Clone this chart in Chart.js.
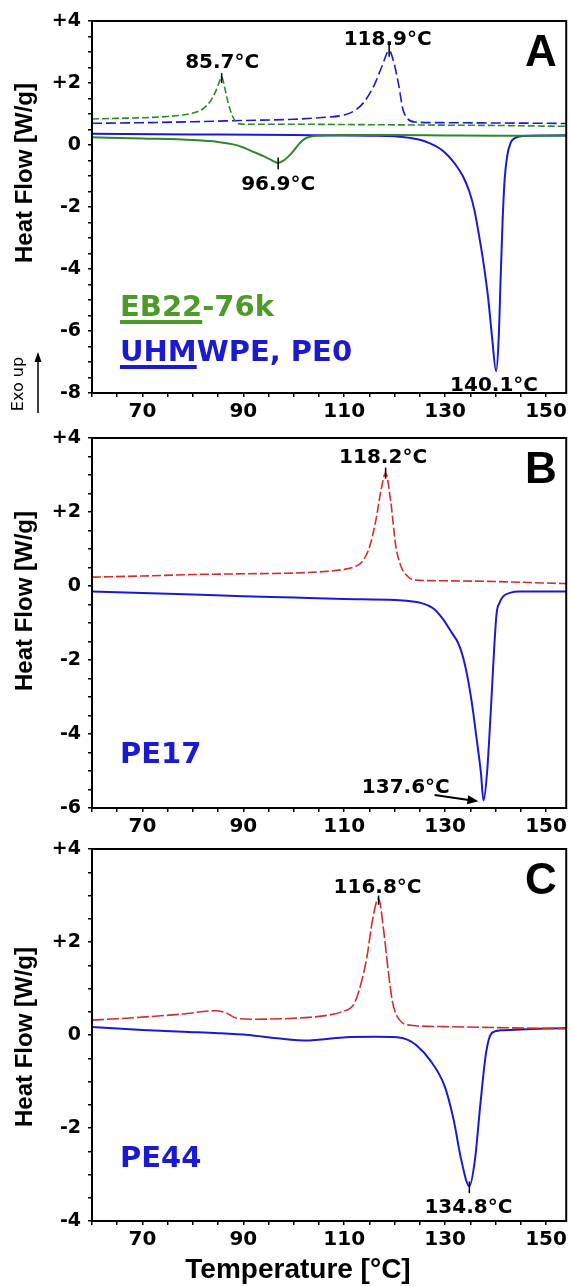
<!DOCTYPE html>
<html>
<head>
<meta charset="utf-8">
<script src="https://cdn.jsdelivr.net/npm/chart.js@4.4.1/dist/chart.umd.min.js"></script>
<style>
    body { margin: 0; background: #fff; width: 570px; height: 1286px; position: relative; overflow: hidden; }
    canvas { position: absolute; left: 0; }
</style>
</head>
<body>
<canvas id="chart-a" width="570" height="440" style="top:0px"></canvas>
<canvas id="chart-b" width="570" height="440" style="top:415px"></canvas>
<canvas id="chart-c" width="570" height="460" style="top:826px"></canvas>
<script>
// ---- data (temperature in °C, heat flow in W/g) ----
const xTickLabels = [70, 90, 110, 130, 150];
const aYTickLabels = ['-8', '-6', '-4', '-2', '0', '+2', '+4'];
const bYTickLabels = ['-6', '-4', '-2', '0', '+2', '+4'];
const cYTickLabels = ['-4', '-2', '0', '+2', '+4'];

// panel A: EB22-76k (green) and UHMWPE / PE0 (blue)
const aEbCoolT = [60, 65, 70, 75, 78, 80, 82, 83.5, 84.5, 85.2, 85.7, 86.3, 87, 87.8, 88.5, 89.3, 91, 95, 100, 110, 120, 130, 140, 150, 155];
const aEbCoolV = [0.84, 0.86, 0.88, 0.92, 0.97, 1.03, 1.17, 1.42, 1.72, 2.02, 2.2, 1.85, 1.35, 0.95, 0.75, 0.68, 0.67, 0.67, 0.67, 0.66, 0.65, 0.64, 0.63, 0.61, 0.6];
const aUhCoolT = [60, 70, 80, 90, 100, 105, 110, 112, 114, 116, 117.5, 118.9, 119.8, 120.8, 121.6, 122.5, 124, 130, 140, 150, 155];
const aUhCoolV = [0.7, 0.72, 0.75, 0.79, 0.83, 0.88, 0.97, 1.1, 1.4, 1.95, 2.55, 3.05, 2.68, 1.93, 1.17, 0.86, 0.74, 0.72, 0.71, 0.7, 0.69];
const aEbHeatT = [60, 70, 80, 85, 88, 90, 92, 94, 95.5, 96.9, 98, 99, 100, 101, 102, 103, 105, 110, 120, 130, 140, 150, 155];
const aEbHeatV = [0.25, 0.21, 0.16, 0.1, 0.02, -0.08, -0.22, -0.36, -0.48, -0.58, -0.5, -0.36, -0.18, 0.03, 0.18, 0.26, 0.3, 0.32, 0.32, 0.31, 0.3, 0.3, 0.3];
const aUhHeatT = [60, 80, 100, 110, 115, 120, 123, 125, 127, 129, 130.5, 132, 133.5, 134.8, 135.8, 136.7, 137.6, 138.5, 139.3, 140.1, 140.6, 141, 141.4, 141.8, 142.3, 143, 143.8, 145.5, 150, 155];
const aUhHeatV = [0.36, 0.34, 0.32, 0.31, 0.3, 0.28, 0.23, 0.17, 0.05, -0.12, -0.33, -0.62, -1.0, -1.5, -2.1, -2.9, -3.8, -4.9, -6.2, -7.3, -6.3, -4.3, -2.4, -1.1, -0.35, 0.08, 0.22, 0.29, 0.31, 0.32];

// panel B: PE17
const bCoolT = [60, 70, 80, 90, 100, 106, 110, 112, 113.5, 115, 116.3, 117.3, 118.2, 119.2, 120.2, 121.2, 122.5, 124, 130, 140, 150, 155];
const bCoolV = [0.24, 0.27, 0.31, 0.33, 0.35, 0.39, 0.45, 0.52, 0.65, 1.05, 1.8, 2.6, 3.05, 2.3, 1.1, 0.55, 0.27, 0.16, 0.14, 0.12, 0.08, 0.06];
const bHeatT = [60, 70, 80, 90, 100, 110, 120, 125.5, 127.6, 129.5, 131.4, 132.5, 133.4, 134.2, 135, 135.6, 136.1, 136.6, 137.1, 137.6, 138.3, 139, 139.7, 140.2, 140.8, 141.5, 143, 144.5, 150, 155];
const bHeatV = [-0.15, -0.19, -0.23, -0.28, -0.31, -0.35, -0.38, -0.47, -0.6, -0.88, -1.28, -1.52, -1.85, -2.3, -2.9, -3.45, -3.98, -4.5, -5.06, -5.8, -5.06, -3.5, -1.73, -0.74, -0.45, -0.28, -0.18, -0.15, -0.15, -0.15];

// panel C: PE44
const cCoolT = [60, 65, 70.7, 77.9, 84.3, 86.5, 88.7, 92.3, 98, 103.1, 107, 109.5, 112, 113.5, 114.5, 115.6, 116.8, 117.8, 118.7, 119.6, 121, 123.2, 130, 140, 150, 155];
const cCoolV = [0.32, 0.35, 0.39, 0.45, 0.52, 0.48, 0.36, 0.34, 0.35, 0.38, 0.43, 0.5, 0.68, 1.18, 1.68, 2.47, 2.94, 2.26, 1.4, 0.69, 0.32, 0.21, 0.18, 0.16, 0.14, 0.13];
const cHeatT = [60, 70, 78, 85, 91, 96.7, 102.8, 106, 110.4, 116, 120.5, 122.5, 124.3, 127, 129.9, 131.7, 133.2, 134.8, 135.9, 137, 138.1, 139.2, 141, 145, 150, 155];
const cHeatV = [0.17, 0.11, 0.07, 0.04, 0.0, -0.07, -0.12, -0.09, -0.05, -0.04, -0.05, -0.1, -0.22, -0.54, -1.1, -1.83, -2.69, -3.25, -2.69, -1.47, -0.39, 0.04, 0.1, 0.12, 0.14, 0.15];

// peak labels: [text, T, heat flow at text baseline]
const aPeakLabels = [['85.7°C', 85.8, 2.48], ['118.9°C', 118.6, 3.24], ['96.9°C', 96.9, -1.46], ['140.1°C', 139.7, -7.95]];
const bPeakLabels = [['118.2°C', 117.7, 3.32], ['137.6°C', 122.2, -5.59]];
const cPeakLabels = [['116.8°C', 116.6, 3.05], ['134.8°C', 134.6, -3.82]];
// small marker strokes at the peaks: [T, from, to]
const aPeakMarks = [[85.7, 2.32, 2.0], [118.9, 3.25, 2.85], [96.9, -0.4, -0.78]];
const bPeakMarks = [[118.2, 3.2, 2.9]];
const cPeakMarks = [[116.8, 3.0, 2.8], [134.8, -3.15, -3.4]];

const BLUE = '#1a1ad2';
const GREEN_LINE = '#2c8a2c';
const GREEN_TEXT = '#4c9a2a';
const RED = '#d62c2c';

function pts(T, V) {
    return T.map((t, i) => ({ x: t, y: V[i] }));
}

function series(T, V, color, dash, width) {
    return {
        data: pts(T, V),
        borderColor: color,
        borderWidth: width,
        borderDash: dash,
        pointRadius: 0,
        fill: false,
        cubicInterpolationMode: 'monotone'
    };
}

const decor = {
    id: 'decor',
    afterDraw(chart) {
        const o = chart.options.plugins.decor;
        const { ctx, chartArea: a } = chart;
        const x = chart.scales.x, y = chart.scales.y;
        ctx.save();

        // frame
        ctx.strokeStyle = '#000';
        ctx.lineWidth = 2;
        ctx.strokeRect(a.left, a.top, a.right - a.left, a.bottom - a.top);

        // panel letter
        ctx.fillStyle = '#000';
        ctx.font = 'bold 44px "Liberation Sans", Arial, sans-serif';
        ctx.textAlign = 'center';
        ctx.textBaseline = 'alphabetic';
        ctx.fillText(o.letter, 541, a.top + 45);

        // peak labels
        ctx.font = 'bold 20px "DejaVu Sans", sans-serif';
        o.labels.forEach(([t, tx, ty]) => {
            ctx.fillText(t, x.getPixelForValue(tx), y.getPixelForValue(ty));
        });

        // peak marks
        ctx.lineWidth = 1.5;
        o.marks.forEach(([tx, v1, v2]) => {
            const px = x.getPixelForValue(tx);
            ctx.beginPath();
            ctx.moveTo(px, y.getPixelForValue(v1));
            ctx.lineTo(px, y.getPixelForValue(v2));
            ctx.stroke();
        });

        // arrow pointing at a peak
        if (o.arrow) {
            const [t1, v1, t2, v2] = o.arrow;
            const x1 = x.getPixelForValue(t1), y1 = y.getPixelForValue(v1);
            const x2 = x.getPixelForValue(t2), y2 = y.getPixelForValue(v2);
            const ang = Math.atan2(y2 - y1, x2 - x1);
            ctx.lineWidth = 2;
            ctx.beginPath();
            ctx.moveTo(x1, y1);
            ctx.lineTo(x2 - 8 * Math.cos(ang), y2 - 8 * Math.sin(ang));
            ctx.stroke();
            ctx.beginPath();
            ctx.moveTo(x2, y2);
            ctx.lineTo(x2 - 11 * Math.cos(ang) + 4.5 * Math.sin(ang), y2 - 11 * Math.sin(ang) - 4.5 * Math.cos(ang));
            ctx.lineTo(x2 - 11 * Math.cos(ang) - 4.5 * Math.sin(ang), y2 - 11 * Math.sin(ang) + 4.5 * Math.cos(ang));
            ctx.closePath();
            ctx.fill();
        }

        // sample names
        ctx.textAlign = 'left';
        o.names.forEach(n => {
            ctx.font = 'bold 29px "DejaVu Sans", sans-serif';
            ctx.fillStyle = n.color;
            ctx.fillText(n.text, 120, n.y);
            if (n.underline) {
                const w = ctx.measureText(n.underline).width;
                ctx.fillRect(120, n.y + 4, w, 4);
            }
        });

        // y title
        ctx.fillStyle = '#000';
        ctx.save();
        ctx.translate(25, o.yTitleY);
        ctx.rotate(-Math.PI / 2);
        ctx.textAlign = 'center';
        ctx.textBaseline = 'middle';
        ctx.font = 'bold 24px "Liberation Sans", Arial, sans-serif';
        ctx.fillText('Heat Flow [W/g]', 0, 0);
        ctx.restore();

        if (o.exo) {
            ctx.save();
            ctx.translate(19, 384);
            ctx.rotate(-Math.PI / 2);
            ctx.textAlign = 'center';
            ctx.textBaseline = 'middle';
            ctx.font = '16px "DejaVu Sans", sans-serif';
            ctx.fillText('Exo up', 0, 0);
            ctx.restore();
            ctx.lineWidth = 1.5;
            ctx.beginPath();
            ctx.moveTo(38, 413);
            ctx.lineTo(38, 360);
            ctx.stroke();
            ctx.beginPath();
            ctx.moveTo(38, 352);
            ctx.lineTo(34.5, 362);
            ctx.lineTo(41.5, 362);
            ctx.closePath();
            ctx.fill();
        }

        if (o.xTitleY) {
            ctx.textAlign = 'center';
            ctx.textBaseline = 'middle';
            ctx.font = 'bold 28px "Liberation Sans", Arial, sans-serif';
            ctx.fillText('Temperature [°C]', 298, o.xTitleY);
        }
        ctx.restore();
    }
};

function createPanel(id, cfg) {
    const ctx = document.getElementById(id);
    return new Chart(ctx, {
        type: 'line',
        data: { datasets: cfg.datasets },
        options: {
            responsive: false,
            animation: false,
            devicePixelRatio: 1,
            layout: { padding: { top: cfg.padTop, right: 2, left: 0, bottom: 0 } },
            scales: {
                x: {
                    type: 'linear',
                    min: 60,
                    max: 154,
                    afterFit: s => { s.height = cfg.xAxisHeight; },
                    ticks: {
                        stepSize: 5,
                        includeBounds: false,
                        autoSkip: false,
                        maxRotation: 0,
                        padding: 3,
                        color: '#000',
                        font: { family: '"DejaVu Sans"', weight: 'bold', size: 20 },
                        callback: v => xTickLabels.includes(v) ? String(v) : ''
                    },
                    grid: { drawOnChartArea: false, tickLength: 4, color: '#000', lineWidth: 1.5 },
                    border: { color: '#000', width: 2 }
                },
                y: {
                    type: 'linear',
                    min: cfg.yMin,
                    max: 4,
                    afterFit: s => { s.width = 92; },
                    ticks: {
                        stepSize: 0.5,
                        autoSkip: false,
                        padding: 7,
                        color: '#000',
                        font: { family: '"DejaVu Sans"', weight: 'bold', size: 19 },
                        callback: v => {
                            const l = cfg.yLabels.find(s => Number(s) === v);
                            return l === undefined ? '' : l;
                        }
                    },
                    grid: { drawOnChartArea: false, tickLength: 4, color: '#000', lineWidth: 1.5 },
                    border: { color: '#000', width: 2 }
                }
            },
            plugins: {
                legend: { display: false },
                tooltip: { enabled: false },
                decor: cfg.decor
            }
        },
        plugins: [decor]
    });
}

document.addEventListener('DOMContentLoaded', function () {
    createPanel('chart-a', {
        padTop: 21,
        xAxisHeight: 47,
        yMin: -8,
        yLabels: aYTickLabels,
        datasets: [
            series(aEbCoolT, aEbCoolV, GREEN_LINE, [7, 3], 1.6),
            series(aUhCoolT, aUhCoolV, BLUE, [10, 4], 1.6),
            series(aEbHeatT, aEbHeatV, GREEN_LINE, [], 2),
            series(aUhHeatT, aUhHeatV, BLUE, [], 2)
        ],
        decor: {
            letter: 'A',
            labels: aPeakLabels,
            marks: aPeakMarks,
            yTitleY: 173,
            exo: true,
            names: [
                { text: 'EB22-76k', underline: 'EB22', color: GREEN_TEXT, y: 316 },
                { text: 'UHMWPE, PE0', underline: 'UHM', color: BLUE, y: 361 }
            ]
        }
    });

    createPanel('chart-b', {
        padTop: 23,
        xAxisHeight: 47,
        yMin: -6,
        yLabels: bYTickLabels,
        datasets: [
            series(bCoolT, bCoolV, RED, [9, 3], 1.6),
            series(bHeatT, bHeatV, BLUE, [], 2)
        ],
        decor: {
            letter: 'B',
            labels: bPeakLabels,
            marks: bPeakMarks,
            arrow: [127.9, -5.65, 136.6, -5.82],
            yTitleY: 186,
            names: [{ text: 'PE17', color: BLUE, y: 763 - 415 }]
        }
    });

    createPanel('chart-c', {
        padTop: 23,
        xAxisHeight: 65,
        yMin: -4,
        yLabels: cYTickLabels,
        datasets: [
            series(cCoolT, cCoolV, RED, [12, 3], 1.6),
            series(cHeatT, cHeatV, BLUE, [], 2)
        ],
        decor: {
            letter: 'C',
            labels: cPeakLabels,
            marks: cPeakMarks,
            yTitleY: 211,
            xTitleY: 444,
            names: [{ text: 'PE44', color: BLUE, y: 1167 - 826 }]
        }
    });
});
</script>
</body>
</html>
